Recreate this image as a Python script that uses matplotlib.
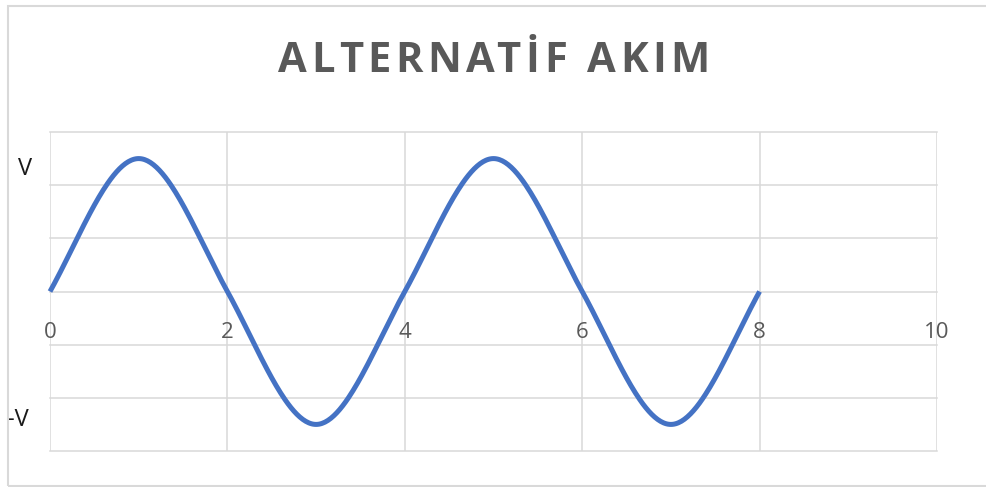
import numpy as np
import matplotlib
matplotlib.use("Agg")
import matplotlib.pyplot as plt
from matplotlib.patches import Rectangle
from matplotlib.transforms import blended_transform_factory

# Sample points of the alternating current (one point per time step)
t_points = [0, 1, 2, 3, 4, 5, 6, 7, 8]
v_points = [0, 1.25, 0, -1.25, 0, 1.25, 0, -1.25, 0]
x_ticks = [0, 2, 4, 6, 8, 10]
title = "ALTERNATİF AKIM"
peak_labels = ["V", "-V"]


def smooth_curve(x, y, tension=1.2, n=60):
    """Cubic Hermite curve through the points (spreadsheet-style smoothing)."""
    x = np.asarray(x, float)
    y = np.asarray(y, float)
    m = np.empty_like(y)
    m[1:-1] = tension * (y[2:] - y[:-2]) / (x[2:] - x[:-2])
    m[0] = tension * (y[1] - y[0]) / (x[1] - x[0])
    m[-1] = tension * (y[-1] - y[-2]) / (x[-1] - x[-2])
    xs, ys = [], []
    for i in range(len(x) - 1):
        h = x[i + 1] - x[i]
        s = np.linspace(0, 1, n, endpoint=(i == len(x) - 2))
        h00 = 2 * s**3 - 3 * s**2 + 1
        h10 = s**3 - 2 * s**2 + s
        h01 = -2 * s**3 + 3 * s**2
        h11 = s**3 - s**2
        xs.append(x[i] + s * h)
        ys.append(h00 * y[i] + h10 * h * m[i] + h01 * y[i + 1] + h11 * h * m[i + 1])
    return np.concatenate(xs), np.concatenate(ys)


def spaced_text(fig, text, cx, cy, tracking, **kw):
    """Draw text centred at (cx, cy) pixels with extra spacing between letters."""
    renderer = fig.canvas.get_renderer()

    def width(s):
        t = fig.text(0, 0, s, **kw)
        w = t.get_window_extent(renderer).width
        t.remove()
        return w

    starts = []
    for i, ch in enumerate(text):
        if ch == " ":
            continue
        starts.append((ch, width(text[:i + 1]) - width(ch) + i * tracking))
    total = width(text) + (len(text) - 1) * tracking
    x0 = cx - total / 2
    W, H = fig.bbox.width, fig.bbox.height
    for ch, s in starts:
        fig.text((x0 + s) / W, cy / H, ch, ha="left", va="center", **kw)


W, H = 987, 487
fig = plt.figure(figsize=(W / 100, H / 100), dpi=100)
fig.patch.set_facecolor("white")

# Chart frame
fig.patches.append(Rectangle((8 / W, 1 / H), 1.2, (486 - 6) / H,
                             transform=fig.transFigure, fill=False,
                             edgecolor="#D9D9D9", linewidth=1.5))

ax = fig.add_axes([50 / W, (H - 451) / H, 887 / W, 319 / H])
ax.set_xlim(0, 10)
ax.set_ylim(-1.5, 1.5)
ax.set_xticks(x_ticks)
ax.set_yticks(np.arange(-1.5, 1.51, 0.5))
ax.set_yticklabels([])
ax.grid(True, color="#D9D9D9", linewidth=1.1)
ax.set_axisbelow(True)
for gl in ax.get_xgridlines() + ax.get_ygridlines():
    gl.set_clip_on(False)
for sp in ax.spines.values():
    sp.set_visible(False)
ax.spines["bottom"].set_position(("data", 0))
ax.tick_params(axis="both", length=0)
ax.tick_params(axis="x", pad=22, labelsize=16, labelcolor="#595959")
for lbl in ax.get_xticklabels():
    lbl.set_fontfamily("Open Sans")

xs, ys = smooth_curve(t_points, v_points)
ax.plot(xs, ys, color="#4472C4", linewidth=3.6, solid_capstyle="butt", clip_on=False)

trans = blended_transform_factory(ax.transAxes, ax.transData)
ax.text(-0.028, 1.156, peak_labels[0], transform=trans, ha="center", va="center",
        fontsize=17, family="Open Sans", color="#1a1a1a")
ax.text(-0.036, -1.21, peak_labels[1], transform=trans, ha="center", va="center",
        fontsize=17, family="Open Sans", color="#1a1a1a")

spaced_text(fig, title, 494, H - 62, 4.6,
            fontsize=30, fontweight="bold", family="Open Sans", color="#595959")

fig.savefig("out.png", dpi=100, facecolor="white")
